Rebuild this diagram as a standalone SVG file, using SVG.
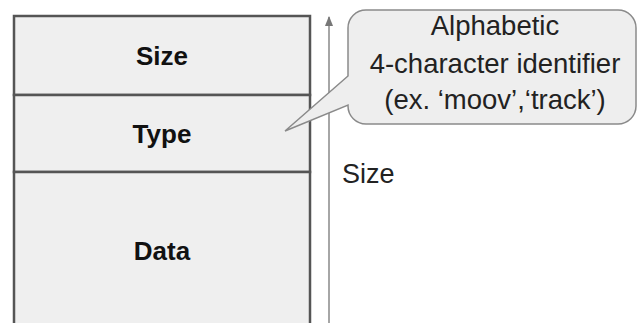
<svg xmlns="http://www.w3.org/2000/svg" width="638" height="323" viewBox="0 0 638 323">
  <style>
    .cell { fill: #efefef; stroke: #555555; stroke-width: 2.5; }
    .label { font-family: "Liberation Sans", Arial, sans-serif; fill: #111111; text-anchor: middle; }
    .bold { font-weight: bold; font-size: 26px; }
    .note { font-size: 27.5px; fill: #222222; }
    .dim { stroke: #888888; stroke-width: 1.5; fill: none; }
  </style>
  <defs>
    <marker id="tip" viewBox="0 0 10 10" refX="9" refY="5" markerWidth="7" markerHeight="7" orient="auto-start-reverse">
      <path d="M0,1 L10,5 L0,9 z" fill="#777777"/>
    </marker>
  </defs>
  <rect width="638" height="323" fill="#ffffff"/>

  <!-- box layout: header fields above the payload -->
  <g id="size-field">
    <rect class="cell" x="14" y="16" width="296" height="79"/>
    <text class="label bold" x="162" y="65">Size</text>
  </g>
  <g id="type-field">
    <rect class="cell" x="14" y="95" width="296" height="77"/>
    <text class="label bold" x="162" y="143">Type</text>
  </g>
  <g id="data-field">
    <rect class="cell" x="14" y="172" width="296" height="160"/>
    <text class="label bold" x="162" y="260">Data</text>
  </g>

  <!-- overall size dimension -->
  <g id="connectors">
    <line class="dim" x1="329" y1="335" x2="329" y2="17" marker-end="url(#tip)"/>
  </g>
  <g id="size-dimension">
    <text class="label" x="342" y="183" style="text-anchor:start;font-size:27px;fill:#222222">Size</text>
  </g>

  <!-- callout describing the type field -->
  <g id="type-callout">
    <path d="M366,10 H618 A18,18 0 0 1 636,28 V106 A18,18 0 0 1 618,124 H366 A18,18 0 0 1 348,106 V105 L285,131 L348,76 V28 A18,18 0 0 1 366,10 Z"
          fill="#eeeeee" stroke="#8a8a8a" stroke-width="1.5"/>
    <text class="label note" x="495" y="35">Alphabetic</text>
    <text class="label note" x="495" y="73">4-character identifier</text>
    <text class="label note" x="495" y="109">(ex. ‘moov’,‘track’)</text>
  </g>
</svg>
